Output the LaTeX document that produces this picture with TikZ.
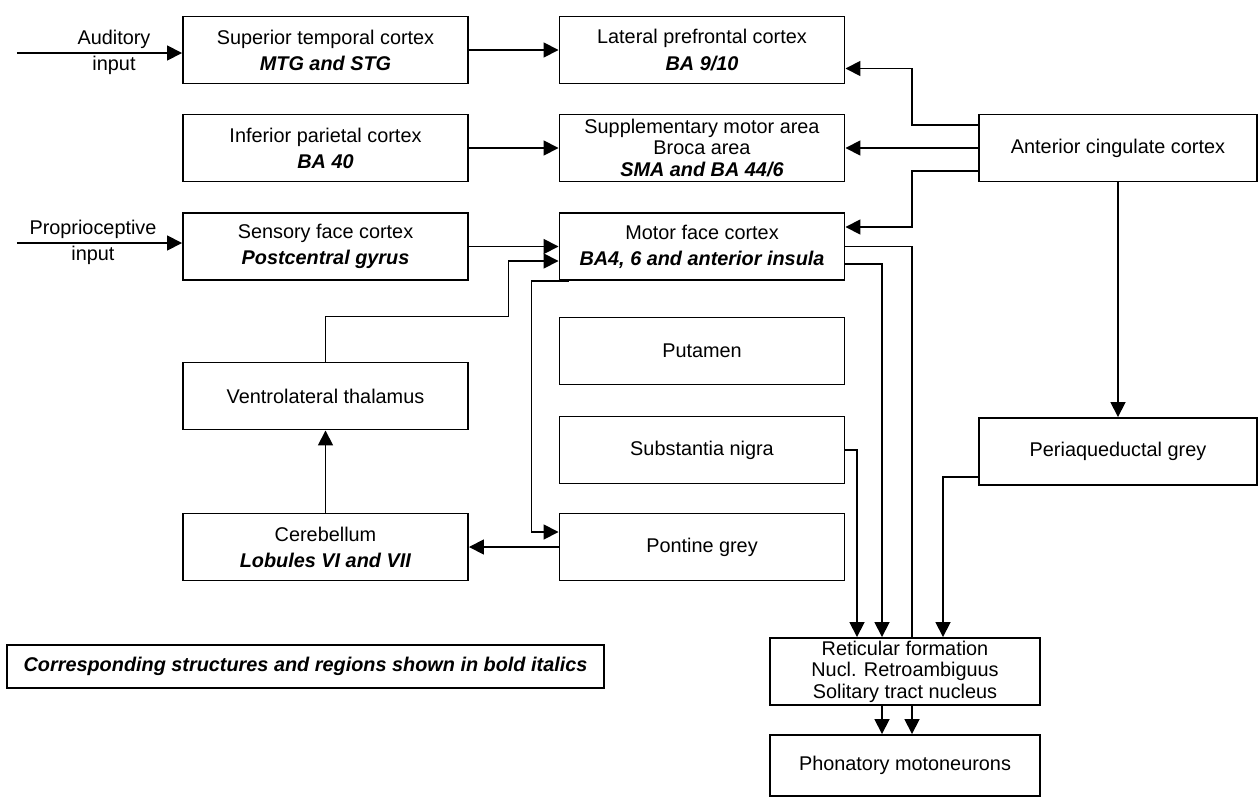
\documentclass[tikz,border=0pt]{standalone}
\usepackage{fontspec}
\setmainfont{Liberation Sans}
\usetikzlibrary{arrows.meta}

\begin{document}
\begin{tikzpicture}[
  >={Triangle[length=0.3cm,width=0.3cm]},
  region/.style={draw=black, line width=1.1pt, rectangle, fill=white,
                 minimum width=5.7cm, minimum height=1.34cm, inner sep=0pt,
                 align=center, font=\fontsize{11.3}{14.8}\selectfont},
  stacked/.style={font=\fontsize{11.3}{12.3}\selectfont},
  wide/.style={minimum width=5.56cm},
  stem/.style={minimum width=5.4cm},
  inlabel/.style={align=center, inner sep=0pt,
                  font=\fontsize{11.3}{14.8}\selectfont},
  link/.style={line width=1pt}
]

\useasboundingbox (0,0) rectangle (25.16,-15.96);

% ===== column centres =====
\def\xL{6.51}    % sensory column
\def\xM{14.04}   % cortex / basal ganglia column
\def\xR{22.36}   % cingulate column
\def\xS{18.10}   % brain stem column

% ===== cortex =====
\node[region] (STC) at (\xL, -1.00)
  {Superior temporal cortex\\\textbf{\textit{MTG and STG}}};
\node[region] (LPC) at (\xM, -1.00)
  {Lateral prefrontal cortex\\\textbf{\textit{BA 9/10}}};
\node[region] (IPC) at (\xL, -2.96)
  {Inferior parietal cortex\\\textbf{\textit{BA 40}}};
\node[region, stacked] (SMA) at (\xM, -2.96)
  {Supplementary motor area\\Broca area\\\textbf{\textit{SMA and BA 44/6}}};
\node[region, wide] (ACC) at (\xR, -2.96) {Anterior cingulate cortex};
\node[region] (SFC) at (\xL, -4.93)
  {Sensory face cortex\\\textbf{\textit{Postcentral gyrus}}};
\node[region] (MFC) at (\xM, -4.93)
  {Motor face cortex\\\textbf{\textit{BA4, 6 and anterior insula}}};

% ===== subcortical =====
\node[region] (PUT) at (\xM, -7.02) {Putamen};
\node[region] (VLT) at (\xL, -7.92) {Ventrolateral thalamus};
\node[region] (SN)  at (\xM, -9.00) {Substantia nigra};
\node[region, wide] (PAG) at (\xR, -9.03) {Periaqueductal grey};
\node[region] (CER) at (\xL, -10.94)
  {Cerebellum\\\textbf{\textit{Lobules VI and VII}}};
\node[region] (PG)  at (\xM, -10.94) {Pontine grey};

% ===== brain stem =====
\node[region, stacked, stem] (RF) at (\xS, -13.43)
  {Reticular formation\\Nucl. Retroambiguus\\Solitary tract nucleus};
\node[region, stem, minimum height=1.22cm] (PM) at (\xS, -15.31)
  {Phonatory motoneurons};

% ===== legend =====
\node[region, minimum width=11.94cm, minimum height=0.86cm,
      font=\fontsize{11.3}{13}\selectfont\bfseries\itshape] (KEY) at (6.11, -13.33)
  {Corresponding structures and regions shown in bold italics};

% ===== inputs =====
\coordinate (AUD) at (0.34, -1.06);
\coordinate (PRO) at (0.34, -4.86);
\node[inlabel] (AUDtxt) at (2.28, -1.04) {Auditory\\input};
\node[inlabel] (PROtxt) at (1.86, -4.85) {Proprioceptive\\input};
\draw[link, ->] (AUD) -- (STC.west |- AUD);
\draw[link, ->] (PRO) -- (SFC.west |- PRO);

% ===== cortical links =====
\draw[link, ->] (STC.east) -- (LPC.west);
\draw[link, ->] (IPC.east) -- (SMA.west);
\draw[link, ->] (SFC.east) -- (MFC.west);
\draw[link, ->] ([yshift=0.46cm]ACC.west) -- ++(-1.32,0) |- ([yshift=-0.37cm]LPC.east);
\draw[link, ->] (ACC.west) -- (SMA.east);
\draw[link, ->] ([yshift=-0.46cm]ACC.west) -- ++(-1.32,0) |- ([yshift=0.39cm]MFC.east);
\draw[link, ->] (ACC.south) -- (PAG.north);

% ===== cerebellar loop =====
\draw[link, ->] ([xshift=0.2cm]MFC.south west) -- ++(-0.74,0) |- ([yshift=0.3cm]PG.west);
\draw[link, ->] (PG.west) -- (CER.east);
\draw[link, ->] (CER.north) -- (VLT.south);
\draw[link, ->] (VLT.north) -- ++(0,0.9) -| ([xshift=-1.0cm, yshift=-0.29cm]MFC.west)
  -- ([yshift=-0.29cm]MFC.west);

% ===== descending links =====
\draw[link, ->] (SN.east) -| ([xshift=-0.96cm]RF.north);
\draw[link, ->] ([yshift=-0.35cm]MFC.east) -| ([xshift=-0.46cm]RF.north);
\draw[link] (MFC.east) -| ([xshift=0.14cm]RF.north);
\draw[link, ->] ([yshift=-0.51cm]PAG.west) -| ([xshift=0.76cm]RF.north);
\draw[link, ->] ([xshift=-0.46cm]RF.south) -- ([xshift=-0.46cm]PM.north);
\draw[link, ->] ([xshift=0.14cm]RF.south) -- ([xshift=0.14cm]PM.north);

\end{tikzpicture}
\end{document}
